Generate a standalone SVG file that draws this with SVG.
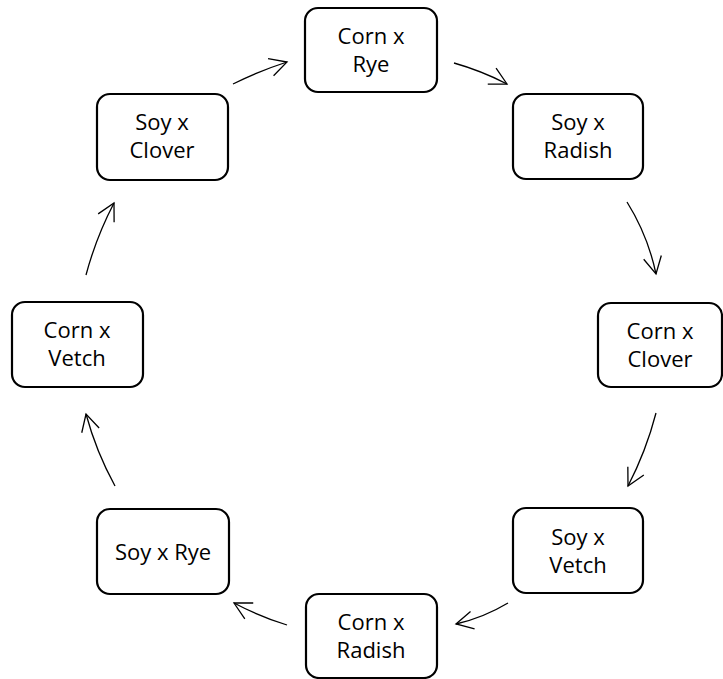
<svg xmlns="http://www.w3.org/2000/svg" width="723" height="679" viewBox="0 0 723 679">
<defs>
<style>
.box{fill:#fff;stroke:#000;stroke-width:2.2}
.lbl{font-family:"Open Sans","Noto Sans",sans-serif;font-size:22px;fill:#000;text-anchor:middle}
.edge{fill:none;stroke:#000;stroke-width:1.3;marker-end:url(#ah)}
</style>
<marker id="ah" markerUnits="userSpaceOnUse" viewBox="-20 -12 24 24" markerWidth="24" markerHeight="24" refX="0" refY="0" orient="auto">
<path d="M-17,-9 L0,0 L-17,9" fill="none" stroke="#000" stroke-width="1.3"/>
</marker>
</defs>
<rect width="723" height="679" fill="#fff"/>
<g id="corn-rye"><rect class="box" x="305" y="8" width="132" height="84" rx="13"/><text class="lbl" x="371" y="44">Corn x</text><text class="lbl" x="371" y="72">Rye</text></g>
<g id="soy-radish"><rect class="box" x="513" y="94" width="130" height="85" rx="13"/><text class="lbl" x="578" y="130">Soy x</text><text class="lbl" x="578" y="158">Radish</text></g>
<g id="corn-clover"><rect class="box" x="598" y="303" width="124" height="84" rx="13"/><text class="lbl" x="660" y="339">Corn x</text><text class="lbl" x="660" y="367">Clover</text></g>
<g id="soy-vetch"><rect class="box" x="513" y="508" width="130" height="85" rx="13"/><text class="lbl" x="578" y="545">Soy x</text><text class="lbl" x="578" y="573">Vetch</text></g>
<g id="corn-radish"><rect class="box" x="306" y="594" width="131" height="84" rx="13"/><text class="lbl" x="371" y="630">Corn x</text><text class="lbl" x="371" y="658">Radish</text></g>
<g id="soy-rye"><rect class="box" x="97" y="509" width="132" height="85" rx="13"/><text class="lbl" x="163" y="560">Soy x Rye</text></g>
<g id="corn-vetch"><rect class="box" x="12" y="302" width="131" height="85" rx="13"/><text class="lbl" x="77" y="338">Corn x</text><text class="lbl" x="77" y="366">Vetch</text></g>
<g id="soy-clover"><rect class="box" x="97" y="94" width="131" height="86" rx="13"/><text class="lbl" x="162" y="130">Soy x</text><text class="lbl" x="162" y="158">Clover</text></g>
<g id="connectors">
<path class="edge" d="M233,84 Q259,71 287,62"/>
<path class="edge" d="M454,63 Q481.6,70.8 507,84"/>
<path class="edge" d="M627,202 Q647.9,235.4 656,274"/>
<path class="edge" d="M656,413 Q646.1,451.1 628,486"/>
<path class="edge" d="M508,603 Q483.7,617.6 456,624"/>
<path class="edge" d="M287,625 Q259.5,616.5 234,603"/>
<path class="edge" d="M115,486 Q96.2,451.7 86,414"/>
<path class="edge" d="M86,275 Q96,237.5 114,203"/>
</g>
</svg>
